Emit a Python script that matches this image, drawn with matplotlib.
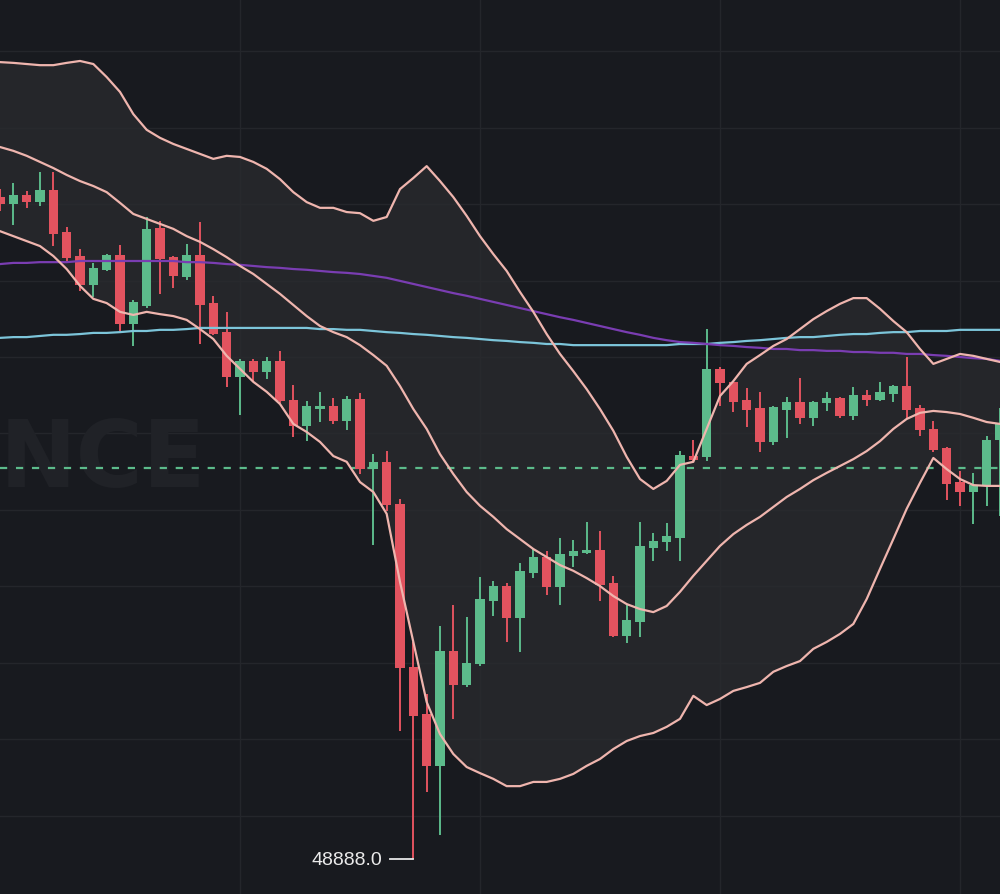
import numpy as np
import matplotlib.pyplot as plt

plt.rcParams['lines.scale_dashes'] = False

# OHLC candles (price)
opens = [50618, 50600, 50624, 50605, 50637, 50527, 50464, 50388, 50428, 50467,
         50286, 50333, 50537, 50461, 50409, 50467, 50341, 50265, 50148, 50190,
         50161, 50190, 50088, 50020, 50064, 50072, 50033, 50090, 49907, 49926,
         49816, 49390, 49267, 49131, 49431, 49343, 49397, 49562, 49601, 49518,
         49635, 49677, 49599, 49680, 49688, 49695, 49609, 49471, 49507, 49701,
         49716, 49727, 49941, 49939, 50169, 50135, 50088, 50067, 49978, 50062,
         50082, 50041, 50080, 50093, 50046, 50101, 50088, 50103, 50124, 50067,
         50012, 49962, 49873, 49847, 49865, 49983]
highs = [50639, 50655, 50634, 50684, 50684, 50540, 50482, 50446, 50469, 50493,
         50349, 50566, 50556, 50464, 50495, 50553, 50360, 50318, 50195, 50195,
         50200, 50216, 50127, 50085, 50109, 50093, 50098, 50106, 49946, 49954,
         49829, 49455, 49319, 49497, 49552, 49520, 49625, 49614, 49609, 49662,
         49701, 49693, 49727, 49722, 49769, 49745, 49628, 49554, 49769, 49740,
         49766, 49954, 49983, 50273, 50174, 50137, 50119, 50109, 50072, 50096,
         50145, 50085, 50109, 50096, 50122, 50114, 50135, 50127, 50200, 50075,
         50033, 49965, 49902, 49897, 49994, 50067]
lows = [50582, 50545, 50590, 50595, 50490, 50451, 50373, 50357, 50425, 50268,
        50229, 50328, 50365, 50380, 50401, 50234, 50258, 50122, 50048, 50137,
        50143, 50080, 49991, 49981, 50030, 50025, 50009, 49894, 49709, 49797,
        49222, 48888, 49063, 48950, 49254, 49337, 49392, 49523, 49455, 49429,
        49622, 49578, 49552, 49651, 49685, 49562, 49468, 49452, 49468, 49667,
        49693, 49667, 49928, 49928, 50072, 50056, 50017, 49952, 49970, 49988,
        50025, 50020, 50059, 50041, 50035, 50072, 50085, 50082, 50041, 49994,
        49952, 49826, 49810, 49763, 49810, 49784]
closes = [50600, 50624, 50605, 50637, 50522, 50459, 50388, 50433, 50467, 50286,
          50344, 50535, 50456, 50412, 50467, 50336, 50260, 50148, 50190, 50161,
          50190, 50085, 50020, 50072, 50072, 50033, 50090, 49907, 49926, 49813,
          49387, 49261, 49131, 49431, 49343, 49400, 49567, 49601, 49518, 49641,
          49677, 49599, 49685, 49693, 49695, 49604, 49471, 49512, 49706, 49719,
          49732, 49944, 49931, 50169, 50132, 50082, 50062, 49978, 50069, 50082,
          50041, 50082, 50093, 50046, 50101, 50088, 50109, 50124, 50062, 50009,
          49957, 49868, 49847, 49865, 49983, 50025]

# Bollinger bands
bb_upper = [50971, 50969, 50966, 50963, 50963, 50969, 50974, 50966, 50932, 50893,
            50835, 50794, 50773, 50757, 50744, 50731, 50718, 50726, 50723, 50710,
            50692, 50665, 50631, 50605, 50590, 50590, 50579, 50576, 50556, 50566,
            50639, 50668, 50699, 50660, 50618, 50569, 50516, 50469, 50425, 50370,
            50318, 50260, 50208, 50163, 50116, 50064, 50007, 49939, 49881, 49855,
            49876, 49918, 49926, 50012, 50098, 50137, 50182, 50205, 50229, 50247,
            50273, 50299, 50320, 50339, 50354, 50354, 50326, 50294, 50265, 50221,
            50182, 50195, 50208, 50203, 50195, 50187]
bb_mid = [50749, 50739, 50726, 50710, 50694, 50676, 50660, 50647, 50631, 50603,
          50574, 50561, 50548, 50535, 50516, 50501, 50482, 50461, 50438, 50417,
          50391, 50365, 50336, 50307, 50281, 50265, 50252, 50231, 50205, 50177,
          50124, 50064, 50012, 49946, 49894, 49847, 49811, 49782, 49750, 49724,
          49698, 49677, 49656, 49641, 49622, 49601, 49575, 49554, 49541, 49533,
          49549, 49586, 49628, 49667, 49706, 49737, 49761, 49782, 49808, 49834,
          49855, 49878, 49897, 49915, 49933, 49954, 49980, 50012, 50038, 50054,
          50059, 50056, 50051, 50041, 50030, 50025]
bb_lower = [50529, 50516, 50503, 50490, 50464, 50430, 50386, 50352, 50341, 50318,
            50310, 50318, 50312, 50307, 50297, 50273, 50247, 50203, 50169, 50135,
            50109, 50077, 50025, 50004, 49978, 49941, 49926, 49873, 49847, 49790,
            49612, 49455, 49298, 49214, 49162, 49128, 49112, 49097, 49078, 49078,
            49089, 49089, 49097, 49110, 49131, 49149, 49175, 49196, 49209, 49217,
            49233, 49254, 49314, 49290, 49306, 49327, 49337, 49348, 49377, 49392,
            49405, 49437, 49455, 49476, 49502, 49567, 49646, 49724, 49803, 49871,
            49936, 49907, 49881, 49865, 49863, 49863]

# moving averages
ma_slow = [50443, 50446, 50446, 50448, 50448, 50448, 50451, 50451, 50451, 50451,
           50451, 50451, 50451, 50451, 50448, 50448, 50446, 50443, 50441, 50438,
           50435, 50433, 50430, 50428, 50425, 50422, 50420, 50417, 50412, 50407,
           50399, 50391, 50383, 50375, 50367, 50360, 50352, 50344, 50336, 50328,
           50320, 50312, 50304, 50297, 50289, 50281, 50273, 50265, 50258, 50250,
           50244, 50239, 50237, 50234, 50231, 50229, 50226, 50224, 50221, 50221,
           50218, 50218, 50216, 50216, 50213, 50213, 50211, 50211, 50208, 50208,
           50205, 50203, 50200, 50197, 50195, 50190]
ma_long = [50250, 50252, 50252, 50255, 50258, 50258, 50260, 50263, 50263, 50265,
           50268, 50268, 50271, 50271, 50273, 50276, 50276, 50276, 50276, 50276,
           50276, 50276, 50276, 50276, 50273, 50273, 50271, 50271, 50268, 50265,
           50263, 50260, 50258, 50255, 50252, 50250, 50247, 50244, 50242, 50239,
           50237, 50234, 50234, 50231, 50231, 50231, 50231, 50231, 50231, 50231,
           50231, 50234, 50234, 50234, 50237, 50239, 50242, 50244, 50247, 50250,
           50252, 50252, 50255, 50258, 50260, 50260, 50263, 50265, 50265, 50268,
           50268, 50268, 50271, 50271, 50271, 50271]

last_price = 49910
low_label = "48888.0"
watermark = "NCE"

bg = '#181a1f'
up_col = '#5cbb8b'
down_col = '#e2535f'
band_col = '#efb5ae'

x = np.arange(len(opens))
o = np.array(opens, float)
c = np.array(closes, float)

fig = plt.figure(figsize=(10, 8.95), dpi=100)
fig.patch.set_facecolor(bg)
ax = fig.add_axes([0, 0, 1, 1])
ax.set_facecolor(bg)
ax.set_xlim(0, 75)
ax.set_ylim(48796, 51136)

# grid
for gx in [18, 36, 54, 72]:
    ax.axvline(gx, color='#24262b', lw=1, zorder=0)
for gy in range(49000, 51001, 200):
    ax.axhline(gy, color='#24262b', lw=1, zorder=0)

# watermark (left part of the logo is off screen)
ax.text(0.0, 49863, watermark, ha='left', va='baseline', fontsize=66,
        fontweight='bold', family='DejaVu Sans', color='#202227', zorder=0.5)

# band fill
ax.fill_between(x, bb_lower, bb_upper, color='#2a2b2f', alpha=0.75, lw=0, zorder=1)

# dashed last price line
ax.axhline(last_price, color=up_col, lw=1.6, dashes=(5.2, 6.3), zorder=2)

# candles
cols = [up_col if cc >= oo else down_col for oo, cc in zip(o, c)]
ax.vlines(x, lows, highs, colors=cols, lw=1.4, zorder=3)
body_h = np.maximum(np.abs(c - o), 3)
ax.bar(x, body_h, bottom=np.minimum(o, c), width=0.68, color=cols, lw=0, zorder=3)

# lines
ax.plot(x, ma_long, color='#7cc5da', lw=1.6, zorder=4)
ax.plot(x, ma_slow, color='#7a3db2', lw=1.6, zorder=4)
for band in (bb_upper, bb_mid, bb_lower):
    ax.plot(x, band, color=band_col, lw=1.6, zorder=5)

# lowest price marker
i_low = int(np.argmin(lows))
ax.plot([i_low - 1.75, i_low], [lows[i_low], lows[i_low]], color='#e8e8e8', lw=1.3, zorder=6)
ax.text(i_low - 2.3, lows[i_low] - 1, low_label, ha='right', va='center',
        fontsize=14, family='Liberation Sans', color='#eaeaea', zorder=6)

ax.axis('off')
fig.savefig('out.png', dpi=100, facecolor=bg)
